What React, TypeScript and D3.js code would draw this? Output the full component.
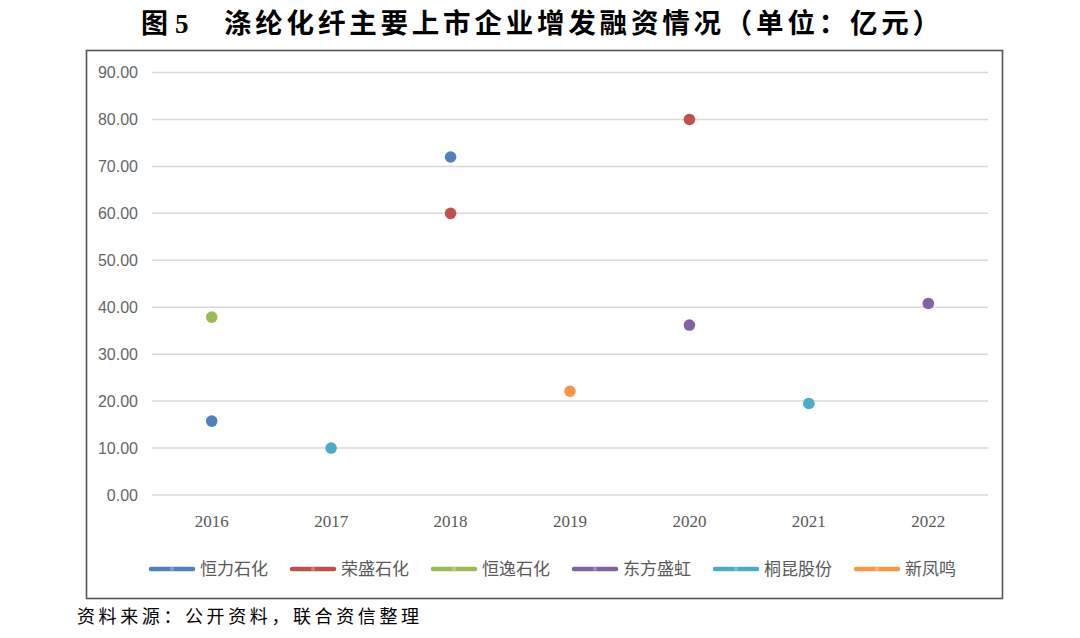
import React from "react";
import * as d3 from "d3";

const years = ["2016", "2017", "2018", "2019", "2020", "2021", "2022"];
const seriesNames = ["恒力石化", "荣盛石化", "恒逸石化", "东方盛虹", "桐昆股份", "新凤鸣"];
const seriesColors = ["#4F81BD", "#C0504D", "#9BBB59", "#8064A2", "#4BACC6", "#F79646"];
const hengli = [15.74, null, 72.0, null, null, null, null];
const rongsheng = [null, null, 60.0, null, 80.0, null, null];
const hengyi = [37.9, null, null, null, null, null, null];
const dongfang = [null, null, null, null, 36.2, null, 40.8];
const tongkun = [null, 10.0, null, null, null, 19.5, null];
const xinfengming = [null, null, null, 22.1, null, null, null];
const seriesValues: (number | null)[][] = [hengli, rongsheng, hengyi, dongfang, tongkun, xinfengming];
const yTicks = [0, 10, 20, 30, 40, 50, 60, 70, 80, 90];
const title = "涤纶化纤主要上市企业增发融资情况（单位：亿元）";
const source = "资料来源：公开资料，联合资信整理";

export default function App() {
  const W = 1080, H = 638;
  const x = d3.scaleBand<string>().domain(years).range([152, 988]);
  const y = d3.scaleLinear().domain([0, 90]).range([495, 72.5]);
  const legendX = d3.scaleLinear().domain([0, 1]).range([149, 290]);

  return (
    <svg width={W} height={H} style={{ position: "absolute", left: 0, top: 0, background: "#fff" }}>
      <rect x={0} y={0} width={W} height={H} fill="#fff" />
      {/* title */}
      <text x={141} y={33} fontSize={27} fontWeight={700} fill="#000" fontFamily="'Liberation Serif', serif">
        <tspan fontFamily="'Noto Sans CJK SC'">图</tspan>
        <tspan dx={7}>5</tspan>
      </text>
      <text x={224} y={33} fontSize={27.5} fontWeight={700} fill="#000" fontFamily="'Noto Sans CJK SC'" letterSpacing={3.8}>
        {title}
      </text>
      {/* frame */}
      <rect x={86.5} y={50.5} width={916} height={548} fill="none" stroke="#555" strokeWidth={1.6} />
      {/* grid */}
      {yTicks.map((t) => (
        <g key={t}>
          <line x1={152} x2={988} y1={y(t)} y2={y(t)} stroke="#d9d9d9" strokeWidth={1.5} />
          <text x={138} y={y(t)} dy="0.36em" textAnchor="end" fontSize={16} fill="#666"
            fontFamily="'Liberation Sans Narrow', 'Liberation Sans', sans-serif">
            {t.toFixed(2)}
          </text>
        </g>
      ))}
      {years.map((yr) => (
        <text key={yr} x={(x(yr) ?? 0) + x.bandwidth() / 2} y={527} textAnchor="middle" fontSize={17}
          fill="#595959" fontFamily="'Liberation Serif', serif">
          {yr}
        </text>
      ))}
      {/* points */}
      {seriesValues.map((vals, si) =>
        vals.map((v, i) =>
          v == null ? null : (
            <circle key={`${si}-${i}`} cx={(x(years[i]) ?? 0) + x.bandwidth() / 2} cy={y(v)} r={5.8}
              fill={seriesColors[si]} />
          )
        )
      )}
      {/* legend */}
      {seriesNames.map((name, i) => {
        const lx = legendX(i);
        return (
          <g key={name}>
            <line x1={lx + 2} x2={lx + 44} y1={569} y2={569} stroke={seriesColors[i]} strokeWidth={4.5}
              strokeLinecap="round" />
            <circle cx={lx + 23} cy={569} r={2.2} fill="#fff" fillOpacity={0.25} />
            <text x={lx + 51} y={569} dy="0.36em" fontSize={17} fill="#595959" fontFamily="'Noto Sans CJK SC'">
              {name}
            </text>
          </g>
        );
      })}
      {/* source */}
      <text x={77} y={623} fontSize={18} fill="#000" fontFamily="'Noto Sans CJK SC'" letterSpacing={3.6}>
        {source}
      </text>
    </svg>
  );
}
